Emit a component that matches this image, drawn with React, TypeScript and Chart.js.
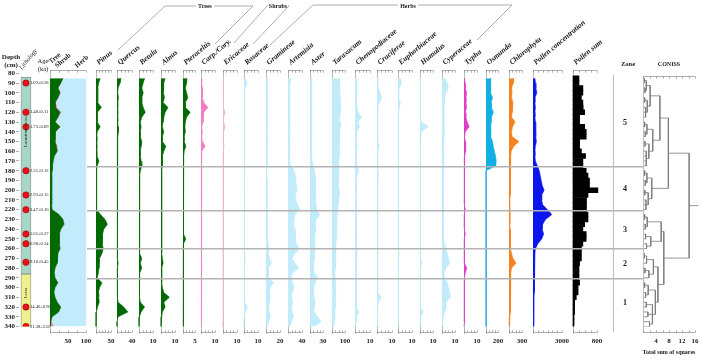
import React, { useEffect, useRef } from "react";
import { Chart, registerables } from "chart.js";

Chart.register(...registerables);

// ---------------- data ----------------
const DEPTHS = [85, 90, 95, 100, 105, 110, 115, 120, 125, 130, 135, 140, 145, 150, 155, 160, 165, 170, 175, 180, 185, 190, 195, 200, 205, 210, 215, 220, 225, 230, 235, 240, 245, 250, 255, 260, 265, 270, 275, 280, 285, 290, 295, 300, 305, 310, 315, 320, 325, 330, 335, 340];

const TREE = [36, 30, 22, 28, 22, 14, 15, 28, 22, 14, 28, 15, 14, 14, 18, 20, 12, 9, 7, 6, 5, 5, 5, 4, 5, 4, 5, 6, 25, 36, 39, 30, 26, 27, 25, 28, 22, 20, 20, 14, 12, 14, 22, 14, 11, 14, 20, 30, 24, 6, 2, 1];
const SHRUB = [1, 1, 1.5, 1.5, 1.5, 2.5, 5.5, 3.5, 2, 2, 2, 1.5, 0.8, 1, 3, 1, 0.5, 0.5, 0.5, 0.5, 0.5, 0.5, 0.5, 0.5, 0.5, 0.5, 0.5, 0.5, 0.5, 0.5, 0.5, 0.5, 0.5, 0.5, 0.5, 0.5, 0.5, 0.5, 0.5, 0.5, 0.5, 0.5, 0.5, 0.5, 0.5, 0.5, 0.5, 0.5, 0.5, 0.5, 3, 10];
const PINUS = [14, 9, 6, 6, 5, 6, 18, 5, 4, 4, 14, 4, 3, 3, 4, 3, 3, 10, 4, 2, 2, 2, 2, 1, 2, 2, 2, 3, 15, 30, 38, 26, 22, 22, 20, 24, 20, 12, 10, 10, 8, 4, 20, 12, 8, 9, 11, 5, 1, 0, 0, 0];
const QUERCUS = [10, 8, 3, 2, 4, 2, 2, 3, 2, 2, 3, 4, 2, 1, 2, 2, 1, 2, 1, 1, 1, 1, 1, 1, 1, 1, 1, 1, 1, 1, 1, 1, 1, 1, 1, 1, 2, 1, 3, 1, 2, 1, 1, 1, 1, 1, 3, 18, 29, 3, 0, 0];
const BETULA = [4, 3, 2, 3, 2, 2, 3, 4.5, 2, 1, 1.5, 1, 1, 2, 1.5, 1, 1, 1.5, 2, 1, 0.5, 0.5, 0.5, 0.5, 0.5, 0.5, 0.5, 0.5, 0.3, 0.3, 0.3, 0.3, 0.3, 0.3, 0.3, 0.5, 0.5, 2, 1, 2, 0.5, 0.3, 0.3, 0.5, 0.3, 0.3, 1, 4, 1.5, 0.3, 0, 0];
const ALNUS = [3, 2, 1.5, 2, 2.5, 1.5, 5, 3, 2, 1.5, 1, 2, 1, 1, 3.5, 2, 1, 1, 1, 0.5, 0.5, 0.5, 0.5, 0.5, 0.5, 0.5, 0.5, 0.5, 0.5, 0.5, 0.5, 0.5, 0.5, 0.5, 0.5, 0.5, 0.5, 1, 1.5, 0.5, 0.5, 0.5, 0.5, 1, 2, 6, 2, 3, 1, 0.5, 0, 0];
const PTEROCELTIS = [1.5, 1.5, 1, 1.5, 2, 1, 1, 3, 1.5, 1, 0.8, 1, 0.5, 0.5, 1.2, 0.5, 0.3, 0.3, 0.2, 0.2, 0.2, 0.2, 0.2, 0.2, 0.2, 0.2, 0.2, 0.2, 0.2, 0.2, 0.2, 0.2, 0.2, 1.2, 0.2, 0.2, 0.2, 0.2, 0.2, 0.2, 0.2, 0.2, 0.2, 0.2, 0.2, 0.2, 0.2, 0.2, 0.2, 0, 0, 0];
const CARP_CORY = [0.5, 0.5, 1, 1, 1, 2, 5, 2, 1.5, 1.5, 0.5, 1, 0.5, 1, 3, 0.5, 0.3, 0.5, 0.3, 0.3, 0.3, 0.5, 0.3, 0.3, 0.3, 0.5, 0.3, 0.3, 0.3, 0.5, 0.5, 0.3, 0.3, 0.3, 0.5, 0.3, 0.5, 0.3, 0.3, 0.5, 0.3, 0.3, 0.3, 0.3, 0.3, 0.3, 0.3, 0.3, 0.3, 0.3, 0, 0];
const ERICACEAE = [0.3, 0.3, 0.3, 0.3, 0.3, 0.3, 0.5, 1.5, 0.5, 0.3, 1.5, 0.5, 0.3, 0.3, 0.8, 0.3, 0.2, 0.2, 0.2, 0.2, 0.2, 0.2, 0.2, 0.2, 0.2, 0.2, 0.2, 0.2, 0.2, 0.2, 0.2, 0.2, 0.2, 0.2, 0.2, 0.2, 0.2, 0.2, 0.2, 0.2, 0.2, 0.2, 0.2, 0.2, 0.2, 0.2, 0.2, 0.2, 0.2, 0.2, 0, 0];
const ROSACEAE = [1, 2, 1, 0.5, 0.3, 0.3, 0.3, 0.5, 0.3, 0.3, 0.3, 0.3, 0.3, 0.3, 0.3, 0.3, 0.3, 0.3, 0.3, 0.3, 0.3, 0.3, 0.3, 0.3, 0.3, 0.3, 0.3, 0.3, 0.3, 0.3, 0.3, 0.3, 0.3, 0.3, 0.3, 0.3, 0.3, 1, 0.3, 0.3, 0.3, 0.3, 0.3, 0.3, 0.3, 0.3, 0.3, 2.5, 1, 0.3, 0, 0];
const GRAMINEAE = [2, 2, 2, 2, 1.5, 1.5, 2, 2, 1.5, 2, 2, 1.5, 2, 2, 1.5, 1.5, 2, 2, 1.5, 1, 1, 1.5, 1.5, 2, 2, 2, 1.5, 2, 2, 2, 1.5, 2, 2, 2, 3, 3, 4, 5, 8, 3, 3, 4, 11, 6, 5, 6, 5, 4, 5, 6, 4, 2];
const ARTEMISIA = [8, 6, 5, 6, 4, 5, 5, 6, 5, 4, 5, 5, 4, 5, 4, 4, 5, 5, 8, 18, 20, 22, 24, 26, 20, 22, 28, 33, 20, 18, 16, 20, 22, 20, 24, 33, 20, 12, 20, 31, 12, 10, 12, 18, 12, 10, 14, 10, 12, 16, 10, 5];
const ASTER = [5, 4, 4, 4, 3, 4, 4, 4, 3, 3, 4, 3, 4, 3, 3, 4, 4, 5, 8, 10, 12, 13, 14, 12, 13, 12, 14, 15, 23, 15, 12, 14, 12, 11, 12, 10, 11, 10, 9, 8, 10, 18, 12, 9, 8, 10, 12, 10, 9, 18, 26, 10];
const TARAXACUM = [60, 62, 58, 60, 65, 62, 70, 65, 60, 62, 65, 60, 58, 62, 55, 58, 55, 52, 50, 55, 52, 48, 50, 55, 58, 50, 48, 45, 40, 38, 35, 38, 35, 32, 30, 28, 30, 25, 28, 25, 22, 25, 28, 30, 25, 28, 30, 25, 22, 25, 20, 15];
const CHENOPODIACEAE = [1, 1.5, 1, 1.5, 1, 1, 1.5, 2, 4.5, 2, 3, 1, 1, 1, 1.5, 1, 1, 1, 1.5, 2.5, 1.5, 1, 0.8, 1, 1, 1, 1, 1, 1, 1, 1, 1, 1, 1, 1, 1, 1.5, 1, 1, 1, 1, 1, 1, 1, 1, 1, 1, 1, 2.5, 1, 1, 0.5];
const CRUCIFERAE = [0.5, 0.5, 1, 2, 3.3, 1.5, 0.5, 0.5, 0.5, 0.5, 0.5, 0.5, 0.5, 0.5, 1.5, 0.5, 0.5, 0.5, 0.5, 0.5, 1.2, 0.5, 0.5, 0.5, 0.5, 0.5, 0.5, 0.5, 0.5, 0.5, 0.5, 0.5, 0.5, 0.5, 0.5, 0.5, 0.5, 0.5, 0.5, 0.5, 0.5, 0.5, 0.5, 0.5, 0.5, 2.7, 1, 0.5, 0.5, 0.5, 0.3, 0];
const EUPHORBIACEAE = [2, 2.4, 1, 0.5, 0.5, 1.6, 1.2, 0.3, 0.3, 0.3, 0.3, 0.3, 0.3, 0.3, 0.3, 0.3, 0.3, 0.3, 0.3, 0.3, 0.3, 0.3, 0.3, 0.3, 0.3, 0.3, 0.3, 0.3, 0.3, 0.3, 0.3, 0.3, 0.3, 0.3, 0.3, 0.3, 0.8, 0.3, 0.3, 0.3, 0.3, 0.3, 0.3, 0.3, 0.3, 0.3, 0.3, 0.3, 0.3, 0.3, 0.2, 0];
const HUMULUS = [0.3, 0.3, 0.3, 0.3, 0.3, 0.3, 0.3, 0.3, 0.3, 1.5, 6.4, 1, 0.3, 0.3, 0.3, 0.3, 0.3, 0.3, 0.3, 0.3, 0.3, 0.3, 0.3, 0.3, 0.3, 0.3, 0.3, 0.3, 0.3, 0.3, 0.3, 0.3, 0.3, 0.3, 0.3, 0.3, 0.3, 0.3, 1.5, 0.3, 0.3, 0.3, 0.3, 0.3, 0.3, 0.3, 0.3, 0.3, 2.5, 0.5, 0.3, 0];
const CYPERACEAE = [2, 4, 5, 3, 2, 2, 1.5, 2, 1.5, 1.5, 1.5, 2, 1.5, 1, 1.5, 1, 1, 1, 1, 1, 1, 1, 1, 1, 1, 1, 1, 1, 1, 1, 1, 1, 1, 1.5, 2, 3, 4, 5, 6, 3, 1.5, 2, 4, 5, 6, 6.5, 3, 3.5, 2, 1, 0.5, 0.3];
const TYPHA = [0.5, 0.8, 1, 2, 1.5, 1.5, 2, 1, 1.5, 2.5, 4, 1, 0.5, 1, 1.5, 1, 0.5, 0.3, 0.3, 0.3, 0.3, 0.3, 0.3, 0.3, 0.3, 0.3, 0.3, 1, 0.3, 0.3, 0.3, 0.3, 1, 0.3, 0.3, 0.3, 0.3, 0.3, 0.3, 2.2, 1, 0.3, 0.3, 0.3, 0.3, 0.3, 0.3, 0.3, 0.3, 0.3, 0.2, 0];
const OSMUNDA = [80, 75, 80, 70, 110, 85, 90, 125, 90, 85, 80, 75, 80, 110, 120, 140, 160, 170, 165, 0, 0, 0, 0, 0, 0, 0, 0, 5, 0, 0, 0, 0, 5, 0, 0, 0, 5, 0, 0, 0, 0, 0, 5, 0, 0, 0, 0, 0, 0, 0, 0, 0];
const CHLOROPHYTA = [110, 100, 60, 70, 60, 90, 80, 70, 60, 140, 80, 60, 70, 230, 110, 50, 40, 40, 30, 30, 30, 25, 25, 25, 25, 20, 25, 20, 20, 20, 20, 25, 25, 30, 35, 40, 60, 90, 160, 60, 40, 30, 40, 30, 35, 40, 40, 35, 30, 20, 10, 5];
const POLLEN_CONC = [200, 250, 300, 400, 200, 200, 250, 200, 200, 250, 300, 250, 300, 350, 250, 200, 200, 250, 450, 650, 750, 850, 950, 1150, 900, 900, 1000, 1500, 1950, 1300, 1000, 950, 1100, 900, 500, 250, 200, 150, 150, 150, 120, 150, 150, 120, 120, 100, 100, 100, 80, 60, 50, 30];
const POLLEN_SUM = [200, 200, 330, 330, 280, 330, 340, 390, 220, 220, 390, 440, 440, 220, 220, 280, 420, 330, 330, 440, 500, 550, 550, 830, 500, 450, 450, 450, 500, 500, 390, 330, 440, 440, 330, 280, 280, 280, 220, 200, 200, 200, 220, 170, 170, 110, 55, 55, 55, 35, 35, 30];

const AGE_DEPTHS = [90, 120, 135, 180, 205, 220, 245, 255, 274, 320, 340];
const AGE_LABELS = ["1.03±0.58", "1.48±0.11", "1.73±0.09", "2.31±0.12", "2.93±0.15", "3.47±0.16", "5.65±0.27", "6.98±0.34", "9.10±0.45", "14.46±0.90", "21.38±2.03"];

const LITHO_NAMES = ["Lacustrine facies", "Loess"];
const LITHO_TOP = [84, 286];
const LITHO_BOTTOM = [286, 341];

const ZONE_BOUNDARIES = [176, 221, 260, 291];
const ZONE_NAMES = ["5", "4", "3", "2", "1"];
const ZONE_TOP = 85;
const ZONE_BOTTOM = 340;

const CONISS_TICKS = [4, 8, 12, 16];
// nested clusters: [height, child, child, ...]; numbers are sample depths
const CONISS_TREE: any = [14.2,
  [7.8,
    [5.2,
      [2.2, [1.0, [0.4, 85, 90], [0.6, 95, 100]], [1.3, [0.5, 105, 110], [0.8, 115, 120, 125]]],
      [3.0, [1.2, [0.5, 130, 135], [0.7, 140, 145]], [1.8, [0.6, 150, 155], [1.0, 160, 165, 170, 175]]]],
    [2.7, [1.2, [0.5, 180, 185], [0.7, 190, 195]], [1.6, [0.6, 200, 205], [0.9, 210, 215, 220]]]],
  [6.4,
    [5.6, [1.3, [0.5, 225, 230], [0.7, 235, 240]], [2.4, [0.8, 245, 250], [1.1, 255, 260]]],
    [4.6,
      [3.2, [1.1, [0.4, 265, 270], 275], [1.8, [0.6, 280, 285], 290]],
      [3.8, [1.6, [0.5, 295, 300], [0.8, 305, 310]], [2.9, [1.0, 315, 320], [1.5, 325, 330], [2.0, 335, 340]]]]]];

// ---------------- layout & style ----------------
const W = 702;
const H = 360;
const SERIF = '"Liberation Serif", "Times New Roman", serif';
const PAD_TOP = 73.3;
const PAD_BOTTOM = 33.45;
const AX_TOP = 70;
const AX_BOTTOM = 332;
const LABEL_Y = 341;

const GREEN = "#006a00";
const HERB = "#c2ebfb";
const PINK = "#f27ec4";
const PINK_LIGHT = "#f4b4d8";
const TYPHA_C = "#e03cc8";
const OSMUNDA_C = "#12b0e2";
const CHLORO_C = "#f5821f";
const CONC_C = "#0b16ee";
const AXIS_C = "#bdbdbd";
const ZONE_C = "#b3b3b3";
const INK = "#1a1a1a";

type Panel = {
  name: string;
  kind: "area" | "bars" | "tsh";
  values?: number[];
  color?: string;
  max: number;
  step: number;
  x0: number;
  w: number;
  labels?: number[];
};

const PANELS: Panel[] = [
  { name: "TSH", kind: "tsh", max: 100, step: 25, x0: 50, w: 36, labels: [50, 100] },
  { name: "Pinus", kind: "area", values: PINUS, color: GREEN, max: 50, step: 10, x0: 96, w: 15 },
  { name: "Quercus", kind: "area", values: QUERCUS, color: GREEN, max: 40, step: 10, x0: 117, w: 15 },
  { name: "Betula", kind: "area", values: BETULA, color: GREEN, max: 10, step: 2.5, x0: 139, w: 14 },
  { name: "Alnus", kind: "area", values: ALNUS, color: GREEN, max: 10, step: 2.5, x0: 161, w: 14 },
  { name: "Pteroceltis", kind: "area", values: PTEROCELTIS, color: GREEN, max: 5, step: 1.25, x0: 183, w: 12 },
  { name: "Carp./Cory.", kind: "area", values: CARP_CORY, color: PINK, max: 10, step: 2.5, x0: 201, w: 14 },
  { name: "Ericaceae", kind: "area", values: ERICACEAE, color: PINK_LIGHT, max: 10, step: 2.5, x0: 223, w: 14 },
  { name: "Rosaceae", kind: "area", values: ROSACEAE, color: HERB, max: 10, step: 2.5, x0: 244, w: 14 },
  { name: "Gramineae", kind: "area", values: GRAMINEAE, color: HERB, max: 20, step: 5, x0: 266, w: 14 },
  { name: "Artemisia", kind: "area", values: ARTEMISIA, color: HERB, max: 40, step: 10, x0: 288, w: 14 },
  { name: "Aster", kind: "area", values: ASTER, color: HERB, max: 30, step: 7.5, x0: 310, w: 13 },
  { name: "Taraxacum", kind: "area", values: TARAXACUM, color: HERB, max: 100, step: 25, x0: 332, w: 13 },
  { name: "Chenopodiaceae", kind: "area", values: CHENOPODIACEAE, color: HERB, max: 10, step: 2.5, x0: 355, w: 15 },
  { name: "Cruciferae", kind: "area", values: CRUCIFERAE, color: HERB, max: 10, step: 2.5, x0: 377, w: 15 },
  { name: "Euphorbiaceae", kind: "area", values: EUPHORBIACEAE, color: HERB, max: 10, step: 2.5, x0: 398, w: 14 },
  { name: "Humulus", kind: "area", values: HUMULUS, color: HERB, max: 10, step: 2.5, x0: 420, w: 13 },
  { name: "Cyperaceae", kind: "area", values: CYPERACEAE, color: HERB, max: 10, step: 2.5, x0: 442, w: 13 },
  { name: "Typha", kind: "area", values: TYPHA, color: TYPHA_C, max: 10, step: 2.5, x0: 464, w: 13 },
  { name: "Osmunda", kind: "area", values: OSMUNDA, color: OSMUNDA_C, max: 200, step: 50, x0: 486, w: 12 },
  { name: "Chlorophyta", kind: "area", values: CHLOROPHYTA, color: CHLORO_C, max: 300, step: 75, x0: 509, w: 13 },
  { name: "Pollen concentration", kind: "area", values: POLLEN_CONC, color: CONC_C, max: 3000, step: 500, x0: 533, w: 29 },
  { name: "Pollen sum", kind: "bars", values: POLLEN_SUM, color: "#000", max: 800, step: 200, x0: 573, w: 24 },
];

const CONISS_X0 = 643;
const CONISS_W = 52;
const CONISS_MAX = 16;
const ZONE_LINE_START = 87;
const ZONE_COL_X = 613;
const ZONE_LABEL_X = 625;

const BRACKETS = [
  { label: "Trees", tx: 205, lines: [[118, 50, 165, 6, 196, 6], [214, 6, 253, 6, 215, 44]] },
  { label: "Shrubs", tx: 278, lines: [[234, 43, 267, 6, 268, 6], [288, 6, 289, 6, 253, 44]] },
  { label: "Herbs", tx: 408, lines: [[270, 45, 313, 5, 398, 5], [418, 5, 512, 5, 477, 40]] },
];

// ---------------- helpers ----------------
function spanFor(x0: number, w: number, max: number) {
  return { min: (-x0 * max) / w, max: ((W - x0) * max) / w };
}

function txt(ctx: CanvasRenderingContext2D, s: string, x: number, y: number, font: string, align: CanvasTextAlign = "center", rot = 0, baseline: CanvasTextBaseline = "middle") {
  ctx.save();
  ctx.translate(x, y);
  if (rot) ctx.rotate(rot);
  ctx.font = font;
  ctx.fillStyle = INK;
  ctx.textAlign = align;
  ctx.textBaseline = baseline;
  ctx.fillText(s, 0, 0);
  ctx.restore();
}

const ROT = (-40 * Math.PI) / 180;

function baseOptions(xmin: number, xmax: number) {
  return {
    animation: false,
    responsive: false,
    maintainAspectRatio: false,
    events: [],
    layout: { padding: { top: PAD_TOP, bottom: PAD_BOTTOM, left: 0, right: 0 } },
    plugins: { legend: { display: false }, tooltip: { enabled: false }, title: { display: false } },
    scales: {
      x: { type: "linear", min: xmin, max: xmax, display: false, offset: false },
      y: { type: "linear", min: 80, max: 340, reverse: true, display: false, offset: false },
    },
  } as any;
}

function miniAxes(ctx: CanvasRenderingContext2D, xs: any, max: number, step: number, top: number, bottom: number) {
  ctx.save();
  ctx.strokeStyle = "#8c8c8c";
  ctx.lineWidth = 0.7;
  for (const yy of [top, bottom]) {
    const dir = yy === top ? 1 : -1;
    ctx.beginPath();
    ctx.moveTo(xs.getPixelForValue(0), yy + 0.5);
    ctx.lineTo(xs.getPixelForValue(max), yy + 0.5);
    for (let v = 0; v <= max + 1e-9; v += step) {
      const px = Math.round(xs.getPixelForValue(v)) + 0.5;
      ctx.moveTo(px, yy + 0.5);
      ctx.lineTo(px, yy + 0.5 + dir * 2.2);
    }
    ctx.stroke();
  }
  ctx.restore();
}

function panelDecor(p: Panel) {
  return {
    id: "panelDecor",
    beforeDatasetsDraw(chart: any) {
      const ctx = chart.ctx;
      const xs = chart.scales.x;
      const a = Math.round(xs.getPixelForValue(0)) + 0.5;
      ctx.save();
      ctx.strokeStyle = AXIS_C;
      ctx.lineWidth = 1;
      ctx.beginPath();
      ctx.moveTo(a, AX_TOP);
      ctx.lineTo(a, AX_BOTTOM + 2);
      ctx.stroke();
      ctx.restore();
    },
    afterDraw(chart: any) {
      const ctx = chart.ctx;
      const xs = chart.scales.x;
      miniAxes(ctx, xs, p.max, p.step, AX_TOP, AX_BOTTOM);
      for (const v of p.labels ?? [p.max]) {
        txt(ctx, String(v), xs.getPixelForValue(v), LABEL_Y, `bold 7px ${SERIF}`);
      }
      const x0 = xs.getPixelForValue(0);
      if (p.kind === "tsh") {
        const f = `bold 7px ${SERIF}`;
        txt(ctx, "Tree", x0 + 1, 64, f, "left", ROT, "alphabetic");
        txt(ctx, "Shrub", x0 + 7, 68, f, "left", ROT, "alphabetic");
        txt(ctx, "Herb", x0 + 27, 68, f, "left", ROT, "alphabetic");
      } else {
        txt(ctx, p.name, x0 + 3, 65, `italic bold 7.5px ${SERIF}`, "left", ROT, "alphabetic");
      }
    },
  };
}

function panelConfig(p: Panel) {
  const { min, max } = spanFor(p.x0, p.w, p.max);
  const options = baseOptions(min, max);
  options.indexAxis = "y";
  const line = (vals: number[], color: string, fill: any, bw = 0.6) => ({
    data: DEPTHS.map((d, i) => ({ x: vals[i], y: d })),
    fill,
    backgroundColor: color,
    borderColor: color,
    borderWidth: bw,
    pointRadius: 0,
    tension: 0,
  });
  if (p.kind === "bars") {
    return {
      type: "bar",
      data: {
        datasets: [{
          data: DEPTHS.map((d, i) => ({ x: p.values![i], y: d })),
          backgroundColor: p.color,
          borderWidth: 0,
          barPercentage: 1,
          categoryPercentage: 1,
        }],
      },
      options,
      plugins: [panelDecor(p)],
    };
  }
  if (p.kind === "tsh") {
    const treeShrub = TREE.map((t, i) => t + SHRUB[i]);
    const total = TREE.map((t, i) => t + SHRUB[i] + (100 - t - SHRUB[i]));
    return {
      type: "line",
      data: {
        datasets: [
          line(TREE, GREEN, "origin"),
          line(treeShrub, PINK, "-1", 0),
          line(total, HERB, "-1", 0),
        ],
      },
      options,
      plugins: [panelDecor(p)],
    };
  }
  return {
    type: "line",
    data: { datasets: [line(p.values!, p.color!, "origin")] },
    options,
    plugins: [panelDecor(p)],
  };
}

function backgroundConfig() {
  const options = baseOptions(19, W);
  options.scales.x.display = false;
  options.scales.y = {
    type: "linear",
    min: 80,
    max: 340,
    reverse: true,
    position: "left",
    display: true,
    afterFit: (s: any) => { s.width = 19; },
    ticks: { stepSize: 10, autoSkip: false, font: { family: SERIF, size: 7, weight: "bold" }, color: INK, padding: 1 },
    grid: { drawOnChartArea: false, drawTicks: true, tickLength: 3, color: "#777", lineWidth: 0.6 },
    border: { display: false },
  };
  const decor = {
    id: "bgDecor",
    afterDraw(chart: any) {
      const ctx = chart.ctx;
      const ys = chart.scales.y;
      const xs = chart.scales.x;
      const b7 = `bold 7px ${SERIF}`;
      txt(ctx, "Depth", 11, 57, b7);
      txt(ctx, "(cm)", 11, 65, b7);
      txt(ctx, "Lithology", 22, 70, `italic 6.5px ${SERIF}`, "left", (-52 * Math.PI) / 180, "alphabetic");
      txt(ctx, "Age", 43, 61, `6.5px ${SERIF}`);
      txt(ctx, "(ka)", 43, 69, `6.5px ${SERIF}`);
      // lithology labels
      LITHO_NAMES.forEach((n, i) => {
        const yc = ys.getPixelForValue((LITHO_TOP[i] + LITHO_BOTTOM[i]) / 2 + (i === 0 ? -45 : -8));
        txt(ctx, n, xs.getPixelForValue(26), yc, `4.5px ${SERIF}`, "center", -Math.PI / 2);
      });
      // ages
      AGE_DEPTHS.forEach((d, i) => {
        txt(ctx, AGE_LABELS[i], xs.getPixelForValue(30), ys.getPixelForValue(d), `4.6px ${SERIF}`, "left");
      });
      // group brackets
      ctx.save();
      ctx.strokeStyle = "#9a9a9a";
      ctx.lineWidth = 0.8;
      for (const b of BRACKETS) {
        for (const pts of b.lines) {
          ctx.beginPath();
          ctx.moveTo(pts[0], pts[1]);
          for (let k = 2; k < pts.length; k += 2) ctx.lineTo(pts[k], pts[k + 1]);
          ctx.stroke();
        }
      }
      ctx.restore();
      for (const b of BRACKETS) txt(ctx, b.label, b.tx, 6, `bold 6px ${SERIF}`);
    },
  };
  return {
    type: "bar",
    data: {
      datasets: [
        {
          type: "scatter",
          data: AGE_DEPTHS.map((d) => ({ x: 26, y: d })),
          pointRadius: 3.2,
          backgroundColor: "#e8101a",
          borderColor: "#9a0000",
          borderWidth: 0.5,
        },
        {
          type: "bar",
          data: LITHO_TOP.map((t, i) => ({ x: 26, y: [t, LITHO_BOTTOM[i]] })),
          backgroundColor: ["#a6d6c6", "#eef08e"],
          borderColor: "#8f8f8f",
          borderWidth: 0.8,
          borderSkipped: false,
          barThickness: 10,
          grouped: false,
        },
      ],
    },
    options,
    plugins: [decor],
  };
}

function conissConfig() {
  const { min, max } = spanFor(CONISS_X0, CONISS_W, CONISS_MAX);
  const options = baseOptions(min, max);
  const segs: any[] = [];
  const layoutNode = (node: any): { y: number; h: number } => {
    if (typeof node === "number") return { y: node, h: 0 };
    const [h, ...kids] = node;
    const pos = kids.map(layoutNode);
    for (const c of pos) segs.push({ x: c.h, y: c.y }, { x: h, y: c.y }, { x: null, y: null });
    const ys = pos.map((c: any) => c.y);
    const top = Math.min(...ys);
    const bot = Math.max(...ys);
    segs.push({ x: h, y: top }, { x: h, y: bot }, { x: null, y: null });
    return { y: (top + bot) / 2, h };
  };
  const root = layoutNode(CONISS_TREE);
  segs.push({ x: root.h, y: root.y }, { x: 17, y: root.y });

  const decor = {
    id: "zoneDecor",
    afterDraw(chart: any) {
      const ctx = chart.ctx;
      const ys = chart.scales.y;
      const xs = chart.scales.x;
      const c0 = Math.round(xs.getPixelForValue(0)) + 0.5;
      ctx.save();
      ctx.strokeStyle = ZONE_C;
      ctx.lineWidth = 1.5;
      for (const d of ZONE_BOUNDARIES) {
        const y = ys.getPixelForValue(d);
        ctx.beginPath();
        ctx.moveTo(ZONE_LINE_START, y);
        ctx.lineTo(c0, y);
        ctx.stroke();
      }
      ctx.strokeStyle = AXIS_C;
      ctx.lineWidth = 1;
      ctx.beginPath();
      ctx.moveTo(ZONE_COL_X + 0.5, AX_TOP + 5);
      ctx.lineTo(ZONE_COL_X + 0.5, AX_BOTTOM);
      ctx.moveTo(c0, AX_TOP + 6);
      ctx.lineTo(c0, AX_BOTTOM);
      ctx.stroke();
      ctx.restore();
      miniAxes(ctx, xs, CONISS_MAX, 2, AX_TOP + 6, AX_BOTTOM);
      for (const v of CONISS_TICKS) txt(ctx, String(v), xs.getPixelForValue(v), LABEL_Y, `bold 7px ${SERIF}`);
      txt(ctx, "Total sum of squares", xs.getPixelForValue(8), 352, `bold 6px ${SERIF}`);
      txt(ctx, "CONISS", xs.getPixelForValue(8), 64, `bold 6px ${SERIF}`);
      txt(ctx, "Zone", ZONE_LABEL_X + 3, 64, `bold 6.5px ${SERIF}`);
      const bounds = [ZONE_TOP, ...ZONE_BOUNDARIES, ZONE_BOTTOM];
      ZONE_NAMES.forEach((z, i) => {
        txt(ctx, z, ZONE_LABEL_X, ys.getPixelForValue((bounds[i] + bounds[i + 1]) / 2), `bold 8px ${SERIF}`);
      });
    },
  };
  return {
    type: "scatter",
    data: {
      datasets: [{
        data: segs,
        showLine: true,
        spanGaps: false,
        pointRadius: 0,
        borderColor: "#7a7a7a",
        borderWidth: 0.8,
        fill: false,
      }],
    },
    options,
    plugins: [decor],
  };
}

// ---------------- components ----------------
function ChartCanvas({ build }: { build: () => any }) {
  const ref = useRef<HTMLCanvasElement | null>(null);
  useEffect(() => {
    if (!ref.current) return;
    const chart = new Chart(ref.current, build());
    return () => chart.destroy();
  }, []);
  return (
    <canvas
      ref={ref}
      width={W}
      height={H}
      style={{ position: "absolute", left: 0, top: 0, width: W, height: H, pointerEvents: "none" }}
    />
  );
}

export default function App() {
  return (
    <div style={{ position: "fixed", left: 0, top: 0, width: W, height: H, background: "#fff", overflow: "hidden" }}>
      <ChartCanvas build={backgroundConfig} />
      {PANELS.map((p) => (
        <ChartCanvas key={p.name} build={() => panelConfig(p)} />
      ))}
      <ChartCanvas build={conissConfig} />
    </div>
  );
}
